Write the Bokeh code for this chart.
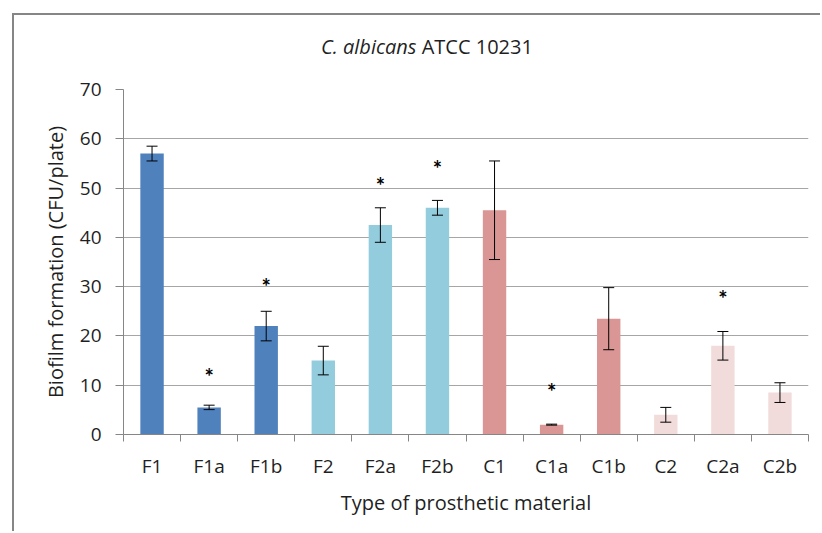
import numpy as np
from bokeh.plotting import figure
from bokeh.layouts import column
from bokeh.models import (ColumnDataSource, Range1d, FixedTicker, Whisker, TeeHead, Div)
from bokeh.core.properties import value
from bokeh.embed import file_html
from bokeh.resources import INLINE

# ---- data ----
categories = ["F1", "F1a", "F1b", "F2", "F2a", "F2b", "C1", "C1a", "C1b", "C2", "C2a", "C2b"]
groups = ["F1", "F1", "F1", "F2", "F2", "F2", "C1", "C1", "C1", "C2", "C2", "C2"]
means = [57, 5.5, 22, 15, 42.5, 46, 45.5, 2, 23.5, 4, 18, 8.5]
errors = [1.5, 0.45, 3, 2.9, 3.5, 1.5, 10, 0.1, 6.3, 1.5, 2.9, 2]
star_categories = ["F1a", "F1b", "F2a", "F2b", "C1a", "C2a"]
star_levels = [12.6, 30.8, 51.4, 54.8, 9.5, 28.5]
y_ticks = [0, 10, 20, 30, 40, 50, 60, 70]
title_species = "C. albicans"
title_strain = "ATCC 10231"

group_colors = {"F1": "#4F81BD", "F2": "#93CDDD", "C1": "#D99694", "C2": "#F2DCDB"}

FONT = "Open Sans"
TXT = "#1f1f1f"
GRID = "#a6a6a6"
AX = "#868686"

x = np.arange(len(categories)) + 0.5
means_a = np.array(means, dtype=float)
err_a = np.array(errors, dtype=float)
src = ColumnDataSource(dict(
    x=x, mean=means_a, upper=means_a + err_a, lower=means_a - err_a,
    color=[group_colors[g] for g in groups]))
sx = [categories.index(c) + 0.5 for c in star_categories]
star_src = ColumnDataSource(dict(x=sx, y=star_levels, t=["*"] * len(sx)))

p = figure(width=808, height=459, output_backend="svg", toolbar_location=None,
           x_range=Range1d(0, len(categories)), y_range=Range1d(0, 70),
           min_border_left=109, min_border_right=14, min_border_top=15, min_border_bottom=99)
p.outline_line_color = None
p.background_fill_color = "white"
p.border_fill_color = "white"

p.vbar(x="x", top="mean", width=0.41, bottom=0, color="color", line_color=None, source=src)

w = Whisker(source=src, base="x", upper="upper", lower="lower", dimension="height",
            line_color="black", line_width=1, level="overlay",
            upper_head=TeeHead(size=11, line_color="black", line_width=1),
            lower_head=TeeHead(size=11, line_color="black", line_width=1))
p.add_layout(w)

p.text(x="x", y="y", text="t", source=star_src, text_align="center",
       text_baseline="alphabetic", y_offset=4, text_font=value("Lato"),
       text_font_size="22px", text_font_style="bold", text_color="black")

# y axis
yax = p.yaxis[0]
yax.ticker = FixedTicker(ticks=y_ticks)
yax.major_tick_out = 8
yax.major_tick_in = 0
yax.minor_tick_out = 0
yax.minor_tick_in = 0
yax.axis_line_color = AX
yax.major_tick_line_color = AX
yax.major_label_text_font = FONT
yax.major_label_text_font_size = "19px"
yax.major_label_text_color = TXT
yax.major_label_standoff = 14
yax.axis_label = "Biofilm formation (CFU/plate)"
yax.axis_label_text_font = FONT
yax.axis_label_text_font_size = "20px"
yax.axis_label_text_font_style = "normal"
yax.axis_label_text_color = TXT
yax.axis_label_standoff = 8

# x axis
xax = p.xaxis[0]
xax.ticker = FixedTicker(ticks=list(x), minor_ticks=list(np.arange(len(categories) + 1)))
xax.major_label_overrides = {float(xi): c for xi, c in zip(x, categories)}
xax.major_tick_out = 0
xax.major_tick_in = 0
xax.minor_tick_out = 7
xax.minor_tick_in = 0
xax.minor_tick_line_color = AX
xax.axis_line_color = AX
xax.major_label_text_font = FONT
xax.major_label_text_font_size = "19px"
xax.major_label_text_color = TXT
xax.major_label_standoff = 11
xax.axis_label = "Type of prosthetic material"
xax.axis_label_text_font = FONT
xax.axis_label_text_font_size = "20px"
xax.axis_label_text_font_style = "normal"
xax.axis_label_text_color = TXT
xax.axis_label_standoff = 7

p.xgrid.grid_line_color = None
p.ygrid.ticker = FixedTicker(ticks=y_ticks)
p.ygrid.grid_line_color = GRID
p.ygrid.grid_line_width = 1

# chart title: italic species name + strain
title_html = (
    f'<div style="padding-left:307px;padding-top:22px;text-align:left;white-space:nowrap;'
    f'font-family:{FONT};font-size:20px;line-height:20px;color:{TXT};">'
    f'<i>{title_species}</i> {title_strain}</div>'
)
title_div = Div(text=title_html, width=808, height=59, styles={"margin": "0px"})

layout = column(title_div, p, spacing=0,
                styles={"margin-left": "14px", "margin-top": "15px",
                        "box-shadow": "-2px -2px 0px 0px #868686",
                        "background-color": "white"})

open("out.html", "w").write(file_html(layout, INLINE))
